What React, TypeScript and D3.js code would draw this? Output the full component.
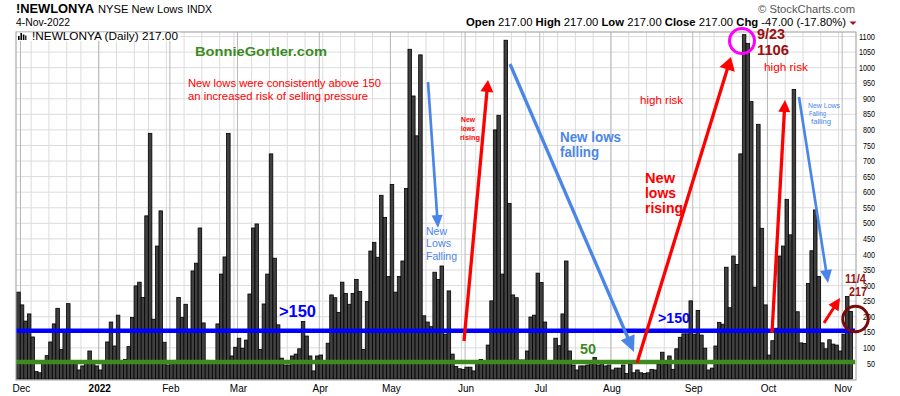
import React from "react";
import * as d3 from "d3";

const W = 900;
const H = 396;

// NYSE new lows, daily values grouped by month
const dec21 = [279, 238, 186, 209, 135, 24, 20, 55, 75, 119, 177, 227, 95, 150, 242, 55, 50, 29, 42, 55, 90, 52];
const jan22 = [42, 29, 55, 119, 183, 106, 205, 55, 63, 104, 198, 299, 311, 262, 524, 789, 192, 427, 540, 118];
const feb22 = [45, 50, 60, 262, 198, 240, 160, 347, 372, 485, 180, 60, 55, 50, 177, 337, 392, 789, 74];
const mar22 = [102, 131, 99, 125, 273, 485, 498, 95, 241, 337, 723, 388, 174, 67, 45, 45, 74, 80, 97, 185, 138, 74, 26];
const apr22 = [74, 77, 55, 115, 270, 261, 214, 311, 275, 240, 275, 320, 281, 95, 249, 411, 439, 391, 590, 519];
const may22 = [329, 625, 279, 329, 379, 612, 1059, 909, 781, 1041, 203, 183, 168, 343, 320, 363, 144, 283, 80, 40, 33];
const jun22 = [31, 38, 38, 26, 50, 63, 50, 109, 251, 800, 847, 337, 1088, 564, 270, 261, 61, 61, 90, 199, 205];
const jul22 = [340, 310, 183, 55, 50, 131, 107, 209, 379, 90, 45, 29, 42, 42, 45, 50, 69, 45, 50, 42];
const aug22 = [45, 29, 35, 35, 45, 18, 47, 20, 29, 20, 18, 20, 31, 29, 47, 86, 47, 74, 31, 97, 134, 145, 145];
const sep22 = [251, 144, 220, 141, 99, 29, 35, 106, 182, 176, 359, 229, 395, 368, 723, 1106, 1078, 891, 295, 818, 484];
const oct22 = [238, 77, 123, 163, 395, 427, 577, 463, 930, 216, 116, 114, 307, 412, 543, 329, 116, 97, 126, 112, 109];
const nov22 = [90, 144, 265, 217];

const monthLabels = ["Dec", "2022", "Feb", "Mar", "Apr", "May", "Jun", "Jul", "Aug", "Sep", "Oct", "Nov"];
const yTicks = d3.range(50, 1101, 50);
const thresholds = [155, 55];
const thresholdColors = ["#0000ff", "#3d8b1f"];

const HOLIDAYS = ["2021-12-24", "2022-01-17", "2022-02-21", "2022-04-15", "2022-05-30", "2022-06-20", "2022-07-04", "2022-09-05"];

const values = [
  ...dec21, ...jan22, ...feb22, ...mar22, ...apr22, ...may22,
  ...jun22, ...jul22, ...aug22, ...sep22, ...oct22, ...nov22,
];

const fmt = d3.timeFormat("%Y-%m-%d");
const dates = d3
  .timeDay.range(new Date(2021, 11, 1), new Date(2022, 10, 5))
  .filter((d) => d.getDay() !== 0 && d.getDay() !== 6 && !HOLIDAYS.includes(fmt(d)));

const N = Math.min(values.length, dates.length);

const L = 16, R = 856, T = 32, B = 380;

const x = d3.scaleBand<number>().domain(d3.range(N)).range([16.7, 852.6]).paddingInner(0).paddingOuter(0);
const y = d3.scaleLinear().domain([0, 1100]).range([379, 36.5]);

const monthStarts: number[] = [];
const weekStarts: number[] = [];
for (let i = 0; i < N; i++) {
  if (i === 0 || dates[i].getMonth() !== dates[i - 1].getMonth()) monthStarts.push(i);
  if (i === 0 || (dates[i].getTime() - dates[i - 1].getTime()) / 86400000 > 2.5 || dates[i].getDay() < dates[i - 1].getDay()) weekStarts.push(i);
}

const gx = (i: number) => (x(i) as number) + x.bandwidth() / 2 + 2;

const FONT = "'Liberation Sans', Arial, sans-serif";
const LB = "#4a86e8";
const RED = "#ff0000";
const DR = "#991111";

type ArrowSpec = { x1: number; y1: number; x2: number; y2: number; c: string; w: number; hl: number; hw: number };
const arrows: ArrowSpec[] = [
  { x1: 428, y1: 82, x2: 438, y2: 228, c: LB, w: 2.7, hl: 13, hw: 5.5 },
  { x1: 464, y1: 341, x2: 488, y2: 80, c: RED, w: 3.3, hl: 12, hw: 6.5 },
  { x1: 510, y1: 64, x2: 634, y2: 352, c: LB, w: 3.3, hl: 16, hw: 7.5 },
  { x1: 637, y1: 363, x2: 731, y2: 57, c: RED, w: 3.3, hl: 13, hw: 8 },
  { x1: 772, y1: 333, x2: 785, y2: 100, c: RED, w: 3.3, hl: 12, hw: 6 },
  { x1: 799, y1: 97, x2: 828, y2: 283, c: LB, w: 2.7, hl: 13, hw: 6 },
  { x1: 824, y1: 323, x2: 840, y2: 298, c: RED, w: 3, hl: 12, hw: 6 },
];

function Arrow({ a }: { a: ArrowSpec }) {
  const ang = Math.atan2(a.y2 - a.y1, a.x2 - a.x1);
  const bx = a.x2 - a.hl * Math.cos(ang);
  const by = a.y2 - a.hl * Math.sin(ang);
  const px = -Math.sin(ang);
  const py = Math.cos(ang);
  const pts = [
    [a.x2, a.y2],
    [bx + px * a.hw, by + py * a.hw],
    [bx - px * a.hw, by - py * a.hw],
  ]
    .map((p) => p.join(","))
    .join(" ");
  return (
    <g>
      <line x1={a.x1} y1={a.y1} x2={bx + Math.cos(ang)} y2={by + Math.sin(ang)} stroke={a.c} strokeWidth={a.w} />
      <polygon points={pts} fill={a.c} />
    </g>
  );
}

type TextSpec = { t: string; x: number; y: number; s: number; c: string; b?: boolean; len?: number };
const notes: TextSpec[] = [
  { t: "BonnieGortler.com", x: 195, y: 56, s: 13.5, c: "#3d8b1f", b: true, len: 132 },
  { t: "New lows were consistently above 150", x: 188, y: 87, s: 10, c: RED, len: 193 },
  { t: "an increased risk of selling pressure", x: 188, y: 100, s: 10, c: RED, len: 180 },
  { t: ">150", x: 279, y: 317, s: 16, c: "#0000ff", b: true, len: 37 },
  { t: ">150", x: 658, y: 323, s: 14, c: "#0000ff", b: true, len: 32 },
  { t: "50", x: 580, y: 354, s: 14, c: "#3d8b1f", b: true, len: 16 },
  { t: "New", x: 426, y: 235, s: 10, c: LB, len: 21 },
  { t: "Lows", x: 426, y: 247, s: 10, c: LB, len: 25 },
  { t: "Falling", x: 426, y: 260, s: 10, c: LB, len: 31 },
  { t: "New", x: 461, y: 122, s: 8, c: RED, b: true, len: 14 },
  { t: "lows", x: 461, y: 131, s: 8, c: RED, b: true, len: 14 },
  { t: "rising", x: 460, y: 140, s: 8, c: RED, b: true, len: 20 },
  { t: "New lows", x: 560, y: 142, s: 14, c: LB, b: true, len: 61 },
  { t: "falling", x: 560, y: 157, s: 14, c: LB, b: true, len: 39 },
  { t: "high risk", x: 640, y: 104, s: 10, c: RED, len: 43 },
  { t: "New", x: 645, y: 183, s: 15, c: RED, b: true, len: 30 },
  { t: "lows", x: 645, y: 198, s: 15, c: RED, b: true, len: 31 },
  { t: "rising", x: 645, y: 213, s: 15, c: RED, b: true, len: 38 },
  { t: "9/23", x: 757, y: 39, s: 14, c: DR, b: true, len: 28 },
  { t: "1106", x: 757, y: 55, s: 14, c: DR, b: true, len: 32 },
  { t: "high risk", x: 764, y: 71, s: 10.5, c: RED, len: 44 },
  { t: "New Lows", x: 808, y: 108, s: 8, c: LB, len: 32 },
  { t: "Falling", x: 809, y: 115.5, s: 8, c: LB, len: 17 },
  { t: "falling", x: 811, y: 124, s: 8, c: LB, len: 20 },
  { t: "11/4", x: 845, y: 283, s: 13.5, c: DR, b: true, len: 21 },
  { t: "217", x: 849, y: 296, s: 13.5, c: DR, b: true, len: 18 },
];

export default function App() {
  return (
    <div style={{ position: "absolute", left: 0, top: 0, width: W, height: H, background: "#fff" }}>
      <svg width={W} height={H} viewBox={`0 0 ${W} ${H}`} style={{ display: "block", fontFamily: FONT }}>
        <rect x={0} y={0} width={W} height={H} fill="#fff" />

        {/* header */}
        <text x={16} y={13} fontSize={12.6} fontWeight="bold" fill="#000" textLength={78} lengthAdjust="spacingAndGlyphs">!NEWLONYA</text>
        <text x={98} y={13} fontSize={11} fill="#000" textLength={85} lengthAdjust="spacingAndGlyphs">NYSE New Lows</text>
        <text x={187} y={13} fontSize={10.5} fill="#000" textLength={25} lengthAdjust="spacingAndGlyphs">INDX</text>
        <text x={16} y={26} fontSize={10.3} fill="#000" textLength={54} lengthAdjust="spacingAndGlyphs">4-Nov-2022</text>
        <text x={758} y={12.5} fontSize={10.5} fill="#555" textLength={97} lengthAdjust="spacingAndGlyphs">© StockCharts.com</text>
        <text x={466} y={26} fontSize={10.3} fill="#000" textLength={380} lengthAdjust="spacingAndGlyphs">
          <tspan fontWeight="bold">Open</tspan> 217.00  <tspan fontWeight="bold">High</tspan> 217.00  <tspan fontWeight="bold">Low</tspan> 217.00  <tspan fontWeight="bold">Close</tspan> 217.00  <tspan fontWeight="bold">Chg</tspan> -47.00 (-17.80%)
        </text>
        <polygon points="849.5,21.5 856.5,21.5 853,25" fill="#a0102a" />

        {/* grid */}
        {yTicks.map((t) => (
          <line key={"h" + t} x1={L} x2={R} y1={y(t)} y2={y(t)} stroke="#dcdcdc" strokeWidth={1} />
        ))}
        {weekStarts.map((i) => (
          <line key={"w" + i} x1={gx(i)} x2={gx(i)} y1={T} y2={B} stroke="#dcdcdc" strokeWidth={1} />
        ))}
        {monthStarts.map((i) => (
          <line key={"m" + i} x1={gx(i)} x2={gx(i)} y1={T} y2={B} stroke="#b8b8b8" strokeWidth={1} />
        ))}

        {/* bars */}
        {values.slice(0, N).map((v, i) => (
          <rect
            key={i}
            x={x(i)}
            y={y(v)}
            width={x.bandwidth()}
            height={y(0) - y(v)}
            fill="#404040"
            stroke="#000"
            strokeWidth={0.8}
          />
        ))}

        {/* threshold lines */}
        {thresholds.map((t, k) => (
          <line key={"t" + t} x1={L} x2={R - 1} y1={y(t)} y2={y(t)} stroke={thresholdColors[k]} strokeWidth={4.5} />
        ))}

        {/* frame */}
        <rect x={L} y={T} width={R - L} height={B - T} fill="none" stroke="#9a9a9a" strokeWidth={1} />

        {/* legend label inside plot */}
        <rect x={17} y={32.5} width={163} height={8.5} fill="#fff" />
        <g fill="#000">
          <rect x={18} y={36} width={1.6} height={4} />
          <rect x={20.4} y={33} width={1.6} height={7} />
          <rect x={22.8} y={34.5} width={1.6} height={5.5} />
          <rect x={25.2} y={35.5} width={1.2} height={4.5} />
        </g>
        <text x={32} y={40} fontSize={10.3} fill="#000" textLength={146} lengthAdjust="spacingAndGlyphs">!NEWLONYA (Daily) 217.00</text>

        {/* y axis labels */}
        {yTicks.map((t) => (
          <text key={"yl" + t} x={875} y={y(t)} dy="0.35em" fontSize={9} textAnchor="end" fill="#000"
            textLength={String(t).length * 4} lengthAdjust="spacingAndGlyphs">
            {t}
          </text>
        ))}

        {/* x axis labels */}
        {monthStarts.map((i, k) => (
          <text key={"xl" + i} x={gx(i) + 1} y={392} fontSize={10} textAnchor="middle" fill="#000"
            fontWeight={monthLabels[k] === "2022" ? "bold" : "normal"}>
            {monthLabels[k]}
          </text>
        ))}

        {/* annotations */}
        {arrows.map((a, i) => (
          <Arrow key={"a" + i} a={a} />
        ))}
        {notes.map((n, i) => (
          <text key={"n" + i} x={n.x} y={n.y} fontSize={n.s} fill={n.c} fontWeight={n.b ? "bold" : "normal"}
            textLength={n.len} lengthAdjust="spacingAndGlyphs">
            {n.t}
          </text>
        ))}
        <circle cx={742} cy={41} r={12.5} fill="none" stroke="#ff00ff" strokeWidth={3} />
        <circle cx={855.5} cy={319} r={12.7} fill="none" stroke="#7a0a0a" strokeWidth={3} />
      </svg>
    </div>
  );
}
